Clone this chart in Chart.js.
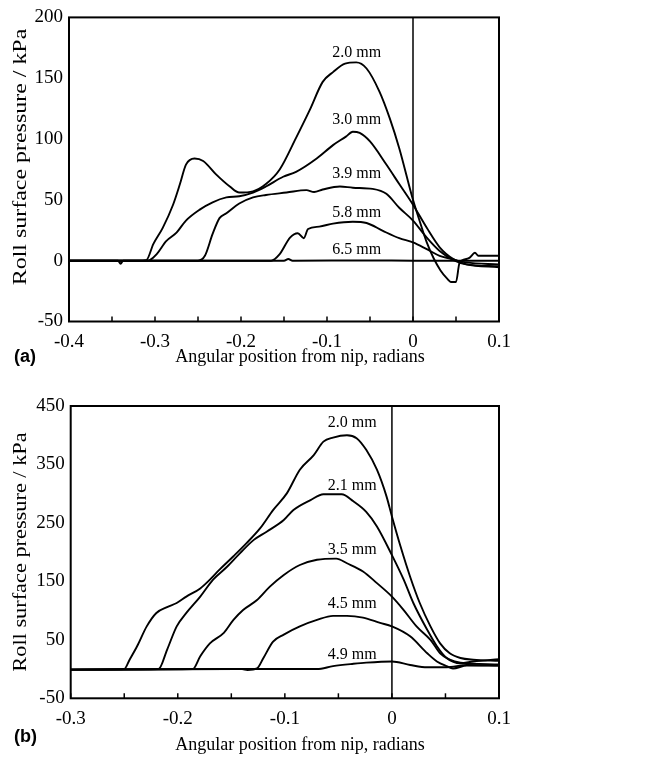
<!DOCTYPE html>
<html>
<head>
<meta charset="utf-8">
<script src="https://cdn.jsdelivr.net/npm/chart.js@4.4.0/dist/chart.umd.min.js"></script>
<style>
body { margin: 0; background: #fff; width: 647px; height: 758px; overflow: hidden; position: relative; }
.panel { position: absolute; left: 0; }
.panel canvas { display: block; }
.tag { position: absolute; font-family: "Liberation Sans", Arial, sans-serif; font-weight: bold; font-size: 18px; color: #000; }
</style>
</head>
<body>
<div class="panel" style="top:0"><canvas id="chart_a" width="647" height="375"></canvas></div>
<div class="panel" style="top:375px"><canvas id="chart_b" width="647" height="383"></canvas></div>
<div class="tag" style="left:14px;top:346px">(a)</div>
<div class="tag" style="left:14px;top:726px">(b)</div>
<script>
// panel (a) - nip gaps
var a_names = ['2.0 mm', '3.0 mm', '3.9 mm', '5.8 mm', '6.5 mm'];
var a20_x = [-0.4, -0.36, -0.343, -0.34, -0.337, -0.32, -0.31, -0.302, -0.291, -0.279, -0.271, -0.264, -0.254, -0.244, -0.229, -0.213, -0.202, -0.186, -0.171, -0.155, -0.136, -0.120, -0.105, -0.093, -0.079, -0.066, -0.054, -0.039, -0.027, -0.016, 0, 0.008, 0.016, 0.024, 0.032, 0.040, 0.044, 0.050, 0.054, 0.060, 0.066, 0.072, 0.076, 0.1];
var a20_y = [0, 0, 0, -2.5, 0, 0, 0.5, 13.6, 27, 46, 63, 79, 84, 82, 71, 61, 56, 57, 63, 75, 101, 124, 147, 155, 162, 163, 158, 139, 117, 92.5, 50, 32, 15, 2, -8, -15, -17.5, -17.5, -2, 1, 2.5, 6.5, 4, 4];
var a30_x = [-0.4, -0.31, -0.306, -0.298, -0.287, -0.275, -0.264, -0.248, -0.233, -0.217, -0.202, -0.186, -0.171, -0.151, -0.136, -0.112, -0.093, -0.078, -0.070, -0.062, -0.05, -0.031, -0.016, 0, 0.016, 0.031, 0.047, 0.062, 0.1];
var a30_y = [0, 0, 0.5, 5.4, 16, 23, 33, 42, 48, 52, 53, 56, 61, 69, 73, 84, 95, 102, 106, 105, 98, 79, 63, 46, 27, 11, 1.4, -1.4, -3];
var a39_x = [-0.4, -0.25, -0.242, -0.233, -0.225, -0.217, -0.202, -0.186, -0.171, -0.147, -0.124, -0.115, -0.105, -0.085, -0.070, -0.047, -0.031, -0.016, 0, 0.016, 0.031, 0.047, 0.062, 0.1];
var a39_y = [0, 0, 4, 22, 35, 39, 47, 52, 54, 56, 58, 56.5, 58.5, 61, 60, 59, 55, 43.5, 33, 19, 8, 0.5, -3, -4.6];
var a58_x = [-0.4, -0.165, -0.155, -0.143, -0.134, -0.127, -0.122, -0.109, -0.093, -0.070, -0.054, -0.035, -0.016, 0, 0.016, 0.031, 0.047, 0.062, 0.1];
var a58_y = [0, 0, 5.4, 19, 22.6, 18.5, 26, 28, 30.5, 32, 31, 24.5, 18.5, 15, 9.5, 4, 1, -3, -5.4];
var a65_x = [-0.4, -0.2, -0.15, -0.145, -0.14, -0.05, 0, 0.05, 0.1];
var a65_y = [0, 0, 0, 1.4, 0, 0.2, 0, 0, 0];

// panel (b)
var b_names = ['2.0 mm', '2.1 mm', '3.5 mm', '4.5 mm', '4.9 mm'];
var b20_x = [-0.3, -0.25, -0.245, -0.238, -0.229, -0.220, -0.210, -0.201, -0.192, -0.179, -0.170, -0.161, -0.148, -0.136, -0.123, -0.111, -0.098, -0.086, -0.073, -0.064, -0.055, -0.042, -0.033, -0.024, -0.014, -0.005, 0, 0.008, 0.017, 0.026, 0.036, 0.045, 0.054, 0.064, 0.076, 0.1];
var b20_y = [-1, 0, 16, 39, 73, 96, 106, 113, 124, 138, 153, 170, 193, 215, 241, 272, 301, 341, 366, 389, 396, 400, 395, 375, 341, 295, 261, 210, 158, 113, 73, 44, 27, 19, 16, 14];
var b21_x = [-0.3, -0.218, -0.210, -0.201, -0.192, -0.179, -0.167, -0.154, -0.142, -0.129, -0.117, -0.101, -0.092, -0.076, -0.064, -0.047, -0.036, -0.024, -0.014, 0, 0.011, 0.020, 0.033, 0.042, 0.051, 0.064, 0.076, 0.1];
var b21_y = [-1, 0, 33, 73, 96, 124, 153, 175, 198, 221, 235, 255, 272, 289, 299, 299, 287, 269, 244, 195, 153, 113, 67, 39, 19, 10, 13, 17];
var b35_x = [-0.3, -0.186, -0.179, -0.170, -0.157, -0.148, -0.139, -0.126, -0.114, -0.101, -0.086, -0.070, -0.052, -0.042, -0.027, -0.014, 0, 0.011, 0.023, 0.036, 0.045, 0.054, 0.064, 0.1];
var b35_y = [-1, 0, 22, 44, 62, 84, 101, 118, 141, 161, 178, 187, 189, 181, 167, 147, 124, 101, 73, 50, 27, 16, 11, 8];
var b45_x = [-0.3, -0.14, -0.135, -0.126, -0.120, -0.111, -0.101, -0.086, -0.070, -0.055, -0.042, -0.027, -0.011, 0, 0.017, 0.033, 0.042, 0.051, 0.057, 0.070, 0.1];
var b45_y = [-1, 0, -1.5, 1, 19, 47, 59, 73, 84, 91, 91, 88, 79, 73, 56, 27, 13, 5, 1, 6, 6];
var b49_x = [-0.3, -0.15, -0.07, -0.055, -0.036, -0.024, 0, 0.017, 0.033, 0.051, 0.07, 0.1];
var b49_y = [-1, 0, 0, 5, 9, 11, 13, 7, 3, 3, 7, 6];

// where each curve's gap label sits, in data units
var a_label_pos = [[-0.0655, 171], [-0.0655, 116], [-0.0655, 71.5], [-0.0655, 39], [-0.0655, 9]];
var b_label_pos = [[-0.037, 422], [-0.037, 313], [-0.037, 204], [-0.037, 111], [-0.037, 24]];

var x_title = 'Angular position from nip, radians';
var y_title = 'Roll surface pressure / kPa';

var serif = "'Liberation Serif', 'Times New Roman', serif";

var makePoints = function(xs, ys) {
    var pts = [];
    for (var i = 0; i < xs.length; i++) {
        pts.push({ x: xs[i], y: ys[i] });
    }
    return pts;
};

var framePlugin = {
    id: 'frame',
    beforeDatasetsDraw: function(chart) {
        var ctx = chart.ctx, area = chart.chartArea;
        var x0 = chart.scales.x.getPixelForValue(0);
        ctx.save();
        ctx.strokeStyle = '#000';
        ctx.lineWidth = 1.5;
        ctx.beginPath();
        ctx.moveTo(x0, area.top);
        ctx.lineTo(x0, area.bottom);
        ctx.stroke();
        ctx.restore();
    },
    afterDatasetsDraw: function(chart, args, opts) {
        var ctx = chart.ctx, area = chart.chartArea;
        var xs = chart.scales.x, ys = chart.scales.y;
        ctx.save();
        ctx.strokeStyle = '#000';
        ctx.lineWidth = 2;
        ctx.strokeRect(area.left, area.top, area.right - area.left, area.bottom - area.top);
        // inward tick marks on the x axis
        ctx.lineWidth = 1.5;
        xs.ticks.forEach(function(t) {
            var px = xs.getPixelForValue(t.value);
            ctx.beginPath();
            ctx.moveTo(px, area.bottom);
            ctx.lineTo(px, area.bottom - 5);
            ctx.stroke();
        });
        ctx.fillStyle = '#000';
        ctx.textAlign = 'center';
        ctx.textBaseline = 'middle';
        // curve labels
        ctx.font = '16px ' + serif;
        var names = opts.names, pos = opts.positions;
        for (var i = 0; i < names.length; i++) {
            ctx.fillText(names[i], xs.getPixelForValue(pos[i][0]), ys.getPixelForValue(pos[i][1]));
        }
        // axis titles (the y one is drawn a bit stretched like the original)
        ctx.font = '18px ' + serif;
        ctx.fillText(x_title, opts.xTitle[0], opts.xTitle[1]);
        ctx.translate(opts.yTitle[0], opts.yTitle[1]);
        ctx.rotate(-Math.PI / 2);
        ctx.scale(opts.yTitle[2], 1);
        ctx.fillText(y_title, 0, 0);
        ctx.restore();
    }
};

var makeChart = function(id, cfg) {
    var datasets = [];
    for (var i = 0; i < cfg.series.length; i++) {
        datasets.push({
            label: cfg.names[i],
            data: makePoints(cfg.series[i][0], cfg.series[i][1]),
            borderColor: '#000',
            borderWidth: 1.9,
            pointRadius: 0,
            fill: false,
            cubicInterpolationMode: 'monotone'
        });
    }
    return new Chart(document.getElementById(id), {
        type: 'line',
        data: { datasets: datasets },
        plugins: [framePlugin],
        options: {
            responsive: false,
            animation: false,
            devicePixelRatio: 1,
            layout: { padding: { top: cfg.padTop, right: cfg.padRight, left: 0, bottom: 0 } },
            plugins: {
                legend: { display: false },
                tooltip: { enabled: false },
                frame: { names: cfg.names, positions: cfg.labelPos, xTitle: cfg.xTitle, yTitle: cfg.yTitle }
            },
            scales: {
                x: {
                    type: 'linear',
                    min: cfg.xMin,
                    max: cfg.xMax,
                    afterFit: function(s) { s.height = cfg.xHeight; },
                    grid: { display: false, drawTicks: false },
                    border: { display: false },
                    ticks: {
                        stepSize: 0.05,
                        autoSkip: false,
                        maxRotation: 0,
                        padding: 9,
                        color: '#000',
                        font: { family: serif, size: 19 },
                        callback: function(v) {
                            var t = v * 10;
                            if (Math.abs(Math.round(t) - t) > 1e-6) return '';
                            return String(Math.round(t) / 10);
                        }
                    }
                },
                y: {
                    min: cfg.yMin,
                    max: cfg.yMax,
                    afterFit: function(s) { s.width = cfg.yWidth; },
                    grid: { display: false, drawTicks: false },
                    border: { display: false },
                    ticks: {
                        stepSize: cfg.yStep,
                        padding: 6,
                        color: '#000',
                        font: { family: serif, size: 19 }
                    }
                }
            }
        }
    });
};

makeChart('chart_a', {
    names: a_names,
    labelPos: a_label_pos,
    series: [[a20_x, a20_y], [a30_x, a30_y], [a39_x, a39_y], [a58_x, a58_y], [a65_x, a65_y]],
    xMin: -0.4, xMax: 0.1,
    yMin: -50, yMax: 200, yStep: 50,
    padTop: 15, padRight: 148, xHeight: 53.5, yWidth: 69,
    xTitle: [300, 357], yTitle: [21, 157, 1.33]
});

makeChart('chart_b', {
    names: b_names,
    labelPos: b_label_pos,
    series: [[b20_x, b20_y], [b21_x, b21_y], [b35_x, b35_y], [b45_x, b45_y], [b49_x, b49_y]],
    xMin: -0.3, xMax: 0.1,
    yMin: -50, yMax: 450, yStep: 100,
    padTop: 31, padRight: 148, xHeight: 59.7, yWidth: 70.7,
    xTitle: [300, 370], yTitle: [21, 177, 1.24]
});
</script>
</body>
</html>
